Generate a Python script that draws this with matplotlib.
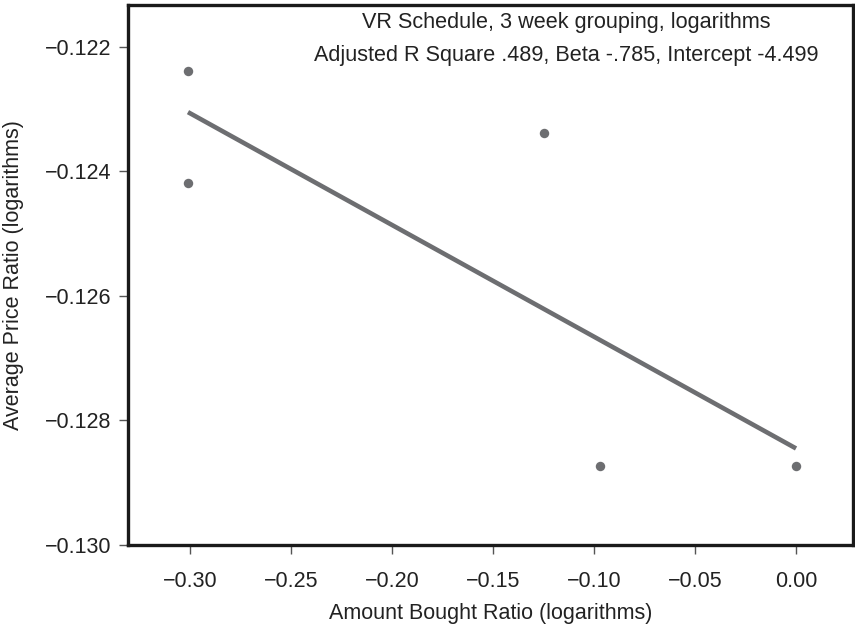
import matplotlib
matplotlib.use("Agg")
import matplotlib.pyplot as plt

plt.rcParams['font.family'] = ['Liberation Sans', 'DejaVu Sans']

amount_ratio = [-0.301, -0.301, -0.125, -0.097, 0.0]
price_ratio = [-0.12239, -0.12419, -0.12338, -0.12873, -0.12873]
fit_x = [-0.301, 0.0]
fit_y = [-0.12305, -0.12845]

x_ticks = [-0.30, -0.25, -0.20, -0.15, -0.10, -0.05, 0.00]
x_tick_labels = ['\u22120.30', '\u22120.25', '\u22120.20', '\u22120.15', '\u22120.10', '\u22120.05', '0.00']
y_ticks = [-0.122, -0.124, -0.126, -0.128, -0.130]
y_tick_labels = ['\u22120.122', '\u22120.124', '\u22120.126', '\u22120.128', '\u22120.130']

title_lines = ["VR Schedule, 3 week grouping, logarithms",
               "Adjusted R Square .489, Beta -.785, Intercept -4.499"]

fig = plt.figure(figsize=(8.55, 6.24), dpi=100)
ax = fig.add_axes([128/855, 1-545/624, (853-128)/855, (545-5)/624])

gray = '#6d6e71'
ax.plot(fit_x, fit_y, color=gray, lw=3.3, solid_capstyle='butt', zorder=2)
ax.plot(amount_ratio, price_ratio, 'o', color=gray, ms=6.8, mec='none', zorder=3)

ax.set_xlim(-0.3307, 0.0282)
ax.set_ylim(-0.1300, -0.12133)
ax.set_xticks(x_ticks)
ax.set_xticklabels(x_tick_labels)
ax.set_yticks(y_ticks)
ax.set_yticklabels(y_tick_labels)
ax.tick_params(axis='both', labelsize=15.5, length=6.5, width=1, color='#555555', labelcolor='#222222')
ax.tick_params(axis='x', pad=12)
ax.tick_params(axis='y', pad=5.5)

for s in ax.spines.values():
    s.set_linewidth(2.4)
    s.set_color('#1a1a1a')

ax.set_xlabel('Amount Bought Ratio (logarithms)', fontsize=15.5, color='#222222', labelpad=8)
ax.set_ylabel('Average Price Ratio (logarithms)', fontsize=15.5, color='#222222', labelpad=15)

ax.text(0.604, 0.9685, title_lines[0], transform=ax.transAxes, ha='center', va='center', fontsize=15.6, color='#222222')
ax.text(0.604, 0.9056, title_lines[1], transform=ax.transAxes, ha='center', va='center', fontsize=15.6, color='#222222')

fig.savefig('out.png', dpi=100)
